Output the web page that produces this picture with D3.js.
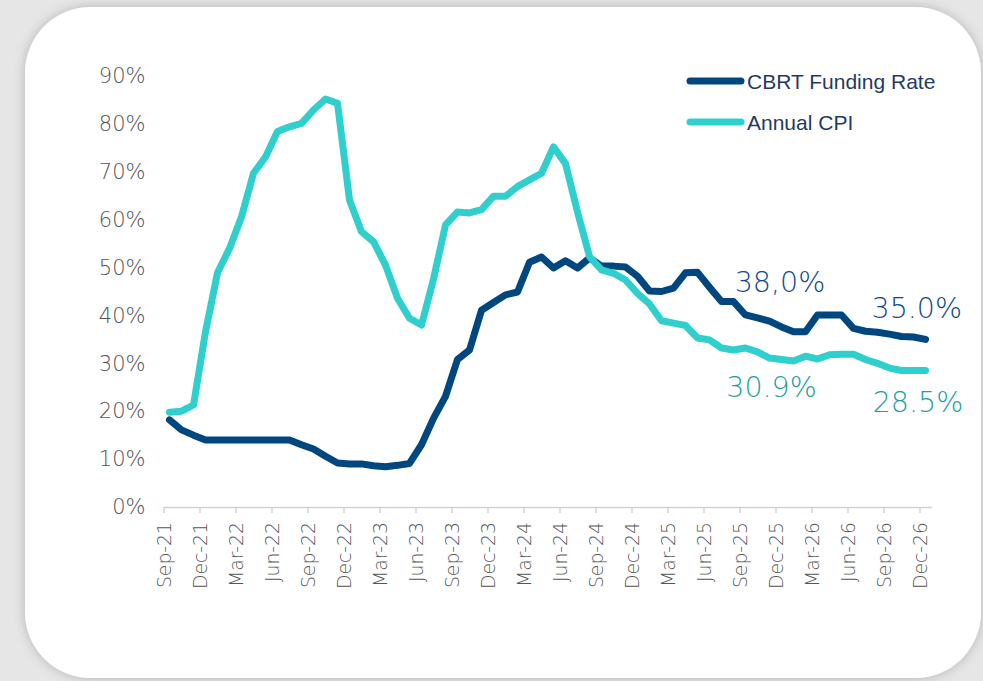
<!DOCTYPE html>
<html>
<head>
<meta charset="utf-8">
<script src="https://cdnjs.cloudflare.com/ajax/libs/d3/7.8.5/d3.min.js"></script>
<style>
  html, body { margin: 0; padding: 0; background: #e6e6e6; overflow: hidden; }
  svg { display: block; }
</style>
</head>
<body>
<div id="chart"></div>
<script>
// quarterly tick labels, one every 3 months starting Sep-21
var tickLabels = ["Sep-21", "Dec-21", "Mar-22", "Jun-22", "Sep-22", "Dec-22", "Mar-23", "Jun-23",
    "Sep-23", "Dec-23", "Mar-24", "Jun-24", "Sep-24", "Dec-24", "Mar-25", "Jun-25",
    "Sep-25", "Dec-25", "Mar-26", "Jun-26", "Sep-26", "Dec-26"];

// monthly values, Sep-21 .. Dec-26 (%)
var cbrtRate = [18.2, 16.1, 15.0, 14.0,
    14.0, 14.0, 14.0, 14.0, 14.0, 14.0, 14.0, 13.0, 12.1, 10.6, 9.2, 9.0,
    9.0, 8.6, 8.4, 8.7, 9.1, 13.0, 18.5, 23.1, 30.8, 32.8, 41.1, 42.7,
    44.3, 44.9, 51.1, 52.2, 49.9, 51.4, 49.9, 52.0, 50.3, 50.3, 50.1, 48.2,
    45.1, 45.0, 45.7, 48.9, 49.0, 45.9, 42.9, 42.9, 40.1, 39.5, 38.8, 37.6,
    36.6, 36.6, 40.1, 40.1, 40.1, 37.3, 36.7, 36.5, 36.1, 35.6, 35.5, 35.0];

var annualCpi = [19.8, 20.0, 21.3, 36.6,
    48.9, 54.0, 60.6, 69.7, 73.1, 78.4, 79.4, 80.1, 82.9, 85.2, 84.3, 64.1,
    57.5, 55.4, 50.5, 43.6, 39.4, 38.0, 47.6, 58.9, 61.6, 61.4, 62.1, 64.9,
    64.9, 66.9, 68.3, 69.7, 75.2, 71.7, 61.6, 52.3, 49.5, 48.8, 47.4, 44.6,
    42.4, 38.9, 38.4, 37.9, 35.3, 34.9, 33.2, 32.8, 33.2, 32.4, 31.1, 30.8,
    30.5, 31.5, 30.9, 31.8, 31.9, 31.9, 30.8, 30.0, 29.0, 28.5, 28.5, 28.5];

var seriesNames = ["CBRT Funding Rate", "Annual CPI"];
var yTicks = [0, 10, 20, 30, 40, 50, 60, 70, 80, 90];

// callouts: text, series, month index and value where the text sits
var callouts = [
    {text: "38,0%", s: 0, m: 47.6, v: 44.8},
    {text: "35.0%", s: 0, m: 59.0, v: 39.5},
    {text: "30.9%", s: 1, m: 46.9, v: 23.0},
    {text: "28.5%", s: 1, m: 59.1, v: 19.8}
];

var width = 983;
var height = 681;
var margin = {top: 76, bottom: 174, left: 163.5, right: 51.5};

var lineColors = ["#00467f", "#2fcfcd"];
var textColors = ["#0f4a8c", "#1fa19a"];

var svg = d3.select('#chart')
    .append('svg')
        .attr('width', width)
        .attr('height', height);

// card with soft shadow
var defs = svg.append('defs');
var shadow = defs.append('filter').attr('id', 'shadow')
    .attr('x', '-10%').attr('y', '-10%').attr('width', '120%').attr('height', '120%');
shadow.append('feDropShadow')
    .attr('dx', 0).attr('dy', 0)
    .attr('stdDeviation', 6)
    .attr('flood-color', '#000')
    .attr('flood-opacity', 0.22);

svg.append('rect')
    .attr('x', 25)
    .attr('y', 7)
    .attr('width', 956)
    .attr('height', 671)
    .attr('rx', 66)
    .attr('fill', '#fff')
    .attr('filter', 'url(#shadow)');

var xScale = d3.scaleLinear()
    .domain([0, 64])
    .range([margin.left, width - margin.right]);

var yScale = d3.scaleLinear()
    .domain([0, 90])
    .range([height - margin.bottom, margin.top]);

// y axis labels only
var yAxis = d3.axisLeft(yScale)
    .tickValues(yTicks)
    .tickSize(0)
    .tickPadding(18)
    .tickFormat(function (d) { return d + '%'; });

var yG = svg.append('g')
    .attr('class', 'y axis')
    .attr('transform', 'translate(' + margin.left + ',0)')
    .call(yAxis);
yG.select('.domain').remove();
yG.selectAll('text')
    .attr('fill', '#555')
    .style('font-family', '"DejaVu Sans", sans-serif')
    .style('font-weight', 300)
    .style('font-size', '21px');

// x axis
var xAxis = d3.axisBottom(xScale)
    .tickValues(d3.range(0, 64, 3))
    .tickSize(6)
    .tickSizeOuter(0)
    .tickFormat(function (d, i) { return tickLabels[i]; });

var xG = svg.append('g')
    .attr('class', 'x axis')
    .attr('transform', 'translate(0,' + (height - margin.bottom) + ')')
    .call(xAxis);
xG.select('.domain').attr('stroke', '#d3d3d3').attr('stroke-width', 1.5);
xG.selectAll('.tick line').attr('stroke', '#d3d3d3').attr('stroke-width', 1.5);
xG.selectAll('text')
    .attr('transform', 'rotate(-90)')
    .attr('x', -15)
    .attr('y', 0)
    .attr('dy', '0.36em')
    .attr('fill', '#555')
    .style('text-anchor', 'end')
    .style('font-family', '"DejaVu Sans", sans-serif')
    .style('font-weight', 300)
    .style('font-size', '18.8px');

// lines, points at mid-month
var line = d3.line()
    .x(function (d, i) { return xScale(i + 0.5); })
    .y(function (d) { return yScale(d); });

[cbrtRate, annualCpi].forEach(function (series, k) {
    svg.append('path')
        .datum(series)
        .attr('fill', 'none')
        .attr('stroke', lineColors[k])
        .attr('stroke-width', 7)
        .attr('stroke-linejoin', 'round')
        .attr('stroke-linecap', 'round')
        .attr('d', line);
});

// legend
var legend = svg.append('g').attr('class', 'legend');
seriesNames.forEach(function (name, k) {
    var ly = 81 + k * 41;
    legend.append('line')
        .attr('x1', 690).attr('x2', 741)
        .attr('y1', ly).attr('y2', ly)
        .attr('stroke', lineColors[k])
        .attr('stroke-width', 7)
        .attr('stroke-linecap', 'round');
    legend.append('text')
        .attr('x', 747)
        .attr('y', ly)
        .attr('dy', '0.36em')
        .attr('fill', '#1f3b63')
        .style('font-family', '"Liberation Sans", Arial, sans-serif')
        .style('font-size', '21px')
        .text(name);
});

// callouts
svg.selectAll('.callout')
    .data(callouts)
    .enter()
    .append('text')
        .attr('class', 'callout')
        .attr('x', function (d) { return xScale(d.m); })
        .attr('y', function (d) { return yScale(d.v); })
        .attr('fill', function (d) { return textColors[d.s]; })
        .style('font-family', '"DejaVu Sans", sans-serif')
        .style('font-weight', 300)
        .style('font-size', '28.5px')
        .text(function (d) { return d.text; });
</script>
</body>
</html>
